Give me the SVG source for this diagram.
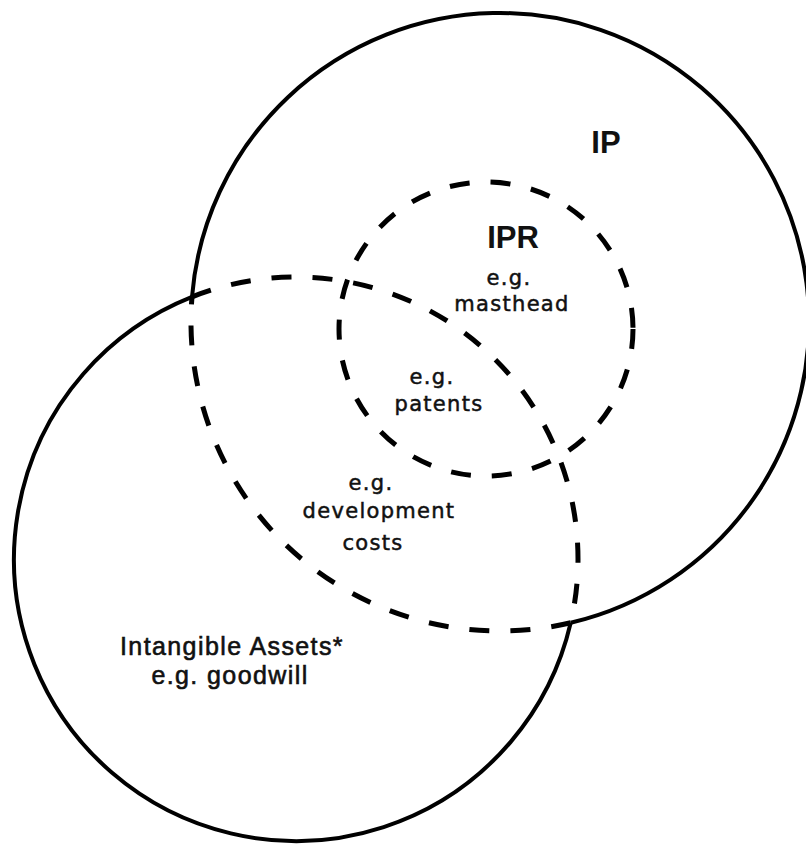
<svg xmlns="http://www.w3.org/2000/svg" width="806" height="847" viewBox="0 0 806 847">
<style>
.solid{fill:none;stroke:#000;stroke-width:4}
.dash{fill:none;stroke:#000;stroke-width:5;stroke-dasharray:20 21}
.big{font-family:"Liberation Sans",Arial,sans-serif;font-weight:bold;font-size:31px;text-anchor:middle;fill:#111}
.lbl{font-family:"DejaVu Sans",Verdana,sans-serif;font-size:21px;letter-spacing:1.3px;text-anchor:middle;fill:#111;stroke:#111;stroke-width:0.5}
.ia{font-family:"Liberation Sans",Arial,sans-serif;font-size:25px;letter-spacing:1.4px;text-anchor:middle;fill:#111;stroke:#111;stroke-width:0.6}
</style>
<rect width="806" height="847" fill="#fff"/>
<g id="ip">
<path class="solid" d="M192,296.9 A309,309 0 1 1 570.7,622.8"/>
<path class="dash" d="M570.7,622.8 A309,309 0 0 1 192,296.9"/>
<text class="big" x="606" y="153">IP</text>
</g>
<g id="intangible-assets">
<path class="solid" d="M570.7,622.8 A282,282 0 1 1 192,296.9"/>
<path class="dash" d="M192,296.9 A282,282 0 0 1 570.7,622.8"/>
<text class="ia" x="232" y="655">Intangible Assets*</text>
<text class="ia" x="230" y="684">e.g. goodwill</text>
</g>
<g id="ipr">
<circle class="dash" cx="486" cy="329" r="147"/>
<text class="big" x="513" y="248">IPR</text>
<text class="lbl" x="509" y="285">e.g.</text>
<text class="lbl" x="512" y="311">masthead</text>
</g>
<g id="overlap">
<text class="lbl" x="432" y="384">e.g.</text>
<text class="lbl" x="439" y="411">patents</text>
<text class="lbl" x="371" y="490">e.g.</text>
<text class="lbl" x="379" y="518">development</text>
<text class="lbl" x="373" y="550">costs</text>
</g>
<g id="connectors"/>
</svg>
